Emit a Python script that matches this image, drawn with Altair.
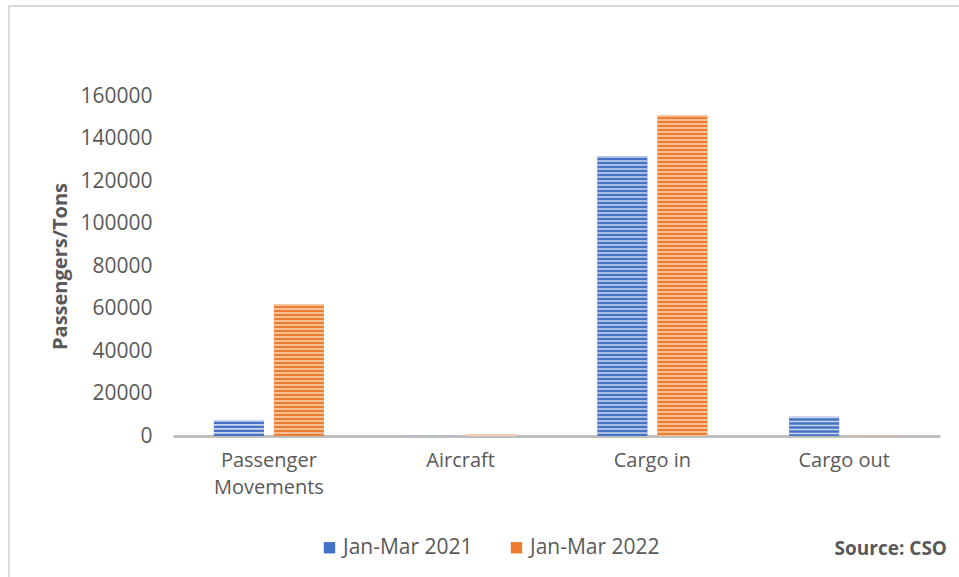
import altair as alt
import pandas as pd

categories = ["Passenger Movements", "Aircraft", "Cargo in", "Cargo out"]
series = ["Jan-Mar 2021", "Jan-Mar 2022"]
values_2021 = [7500, 150, 131700, 9100]
values_2022 = [62000, 700, 151000, 60]
y_ticks = [0, 20000, 40000, 60000, 80000, 100000, 120000, 140000, 160000]

dark = ["#4472C4", "#ED7D31"]
light = ["#C9D6EE", "#FAD3B8"]

rows = []
for c, a, b in zip(categories, values_2021, values_2022):
    rows.append({"cat": c, "series": series[0], "value": a})
    rows.append({"cat": c, "series": series[1], "value": b})
df = pd.DataFrame(rows)

FONT = "Open Sans"
TXT = "#595959"

x_enc = alt.X("cat:N", sort=categories, title=None,
              scale=alt.Scale(paddingInner=0.4263, paddingOuter=0.2131),
              axis=alt.Axis(labelAngle=0, ticks=False, domainColor="#BFBFBF", domainWidth=3,
                            labelFontSize=20, labelColor=TXT, labelFont=FONT, labelPadding=14,
                            labelLineHeight=27, labelBaseline="top",
                            labelExpr="datum.label == 'Passenger Movements' ? ['Passenger', 'Movements'] : datum.label"))
xo_enc = alt.XOffset("series:N", sort=series,
                     scale=alt.Scale(paddingInner=0.1667, paddingOuter=0))
y_enc = alt.Y("value:Q", title="Passengers/Tons",
              scale=alt.Scale(domain=[0, 160000], nice=False),
              axis=alt.Axis(values=y_ticks, format="d", grid=False, domain=False, ticks=False,
                            labelFontSize=21, labelColor=TXT, labelFont=FONT, labelPadding=21,
                            titleFontSize=20, titleColor=TXT, titleFont=FONT, titleFontWeight="bold",
                            titleX=-113, titleY=170, titleAngle=-90, titleBaseline="middle",
                            titleAlign="center"))

bars = alt.Chart(df).mark_bar().encode(
    x=x_enc, xOffset=xo_enc, y=y_enc,
    color=alt.Color("series:N", sort=series, scale=alt.Scale(domain=series, range=dark),
                    legend=alt.Legend(title=None, orient="none", legendX=146, legendY=441,
                                      direction="horizontal", symbolType="square", symbolSize=130,
                                      symbolStrokeWidth=0, labelFontSize=21, labelFont=FONT,
                                      labelColor=TXT, labelOffset=3, columnPadding=33))
)

stripes = alt.Chart(df).mark_rule(strokeWidth=50, strokeDash=[1.6, 2.4], strokeCap="butt").encode(
    x=alt.X("cat:N", sort=categories),
    xOffset=alt.XOffset("series:N", sort=series),
    y=alt.Y("value:Q"),
    y2=alt.datum(0),
    stroke=alt.Stroke("series:N", sort=series, scale=alt.Scale(domain=series, range=light), legend=None)
)

one = pd.DataFrame({"a": [0]})
border_left = alt.Chart(one).mark_rule(color="#D9D9D9", strokeWidth=2).encode(
    x=alt.value(-164), y=alt.value(-91), y2=alt.value(490))
border_top = alt.Chart(one).mark_rule(color="#D9D9D9", strokeWidth=2).encode(
    x=alt.value(-165), x2=alt.value(800), y=alt.value(-90))
source = alt.Chart(one).mark_text(text="Source: CSO", align="right", baseline="middle",
                                  font=FONT, fontSize=19, fontWeight="bold", color=TXT).encode(
    x=alt.value(774), y=alt.value(453))

chart = alt.layer(bars, stripes, border_left, border_top, source).resolve_scale(
    stroke="independent"
).properties(
    width=767, height=340,
    autosize=alt.AutoSizeParams(type="none"),
    padding={"left": 173, "top": 96, "right": 19, "bottom": 141},
    background="white"
).configure_view(stroke=None)

chart.save("out.html", embed_options={"renderer": "svg", "actions": False})
